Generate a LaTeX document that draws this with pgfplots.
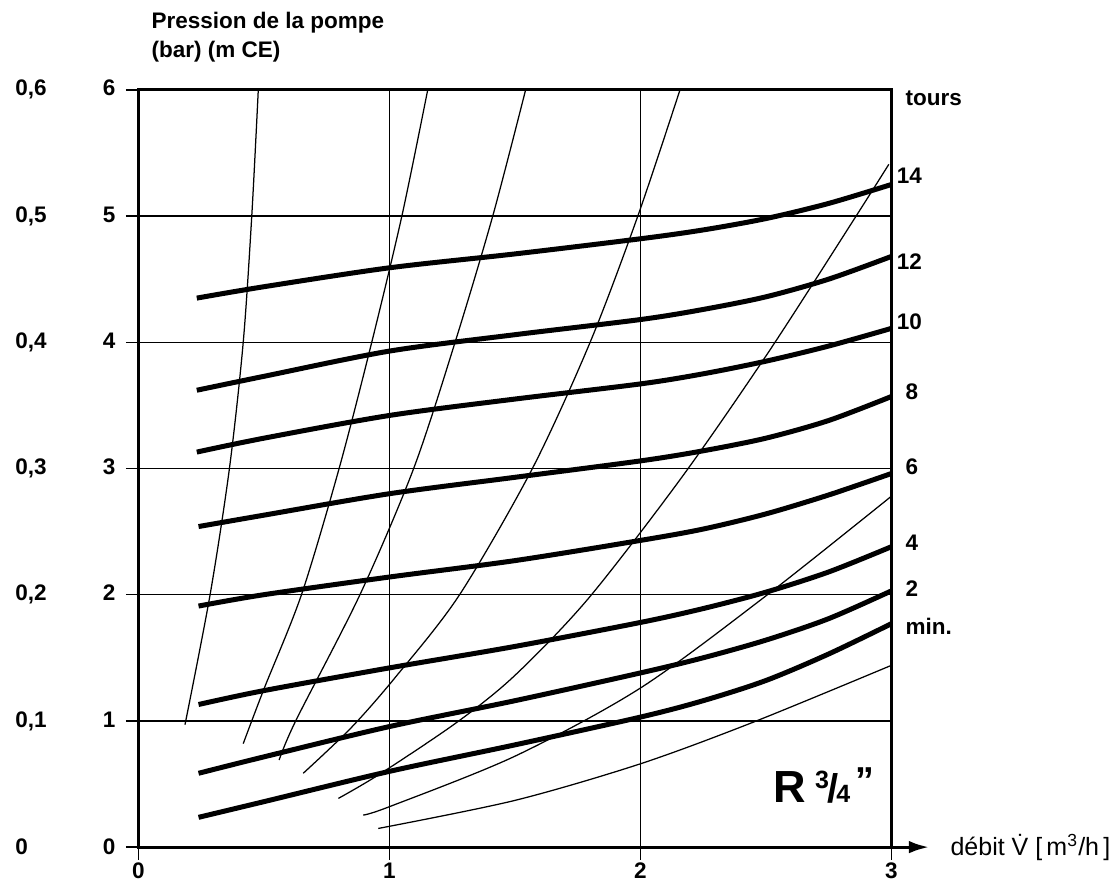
\documentclass[border=0pt]{standalone}
\usepackage{fontspec}
\setmainfont{Liberation Sans}
\usepackage{pgfplots}
\pgfplotsset{compat=1.18}
\usetikzlibrary{arrows.meta}

% two columns of y labels: bar (left) and m CE (right)
\newcommand\yl[2]{\makebox[40pt][s]{#1\hfill#2}}

\begin{document}
\begin{tikzpicture}
\begin{axis}[
    scale only axis, width=301.2pt, height=302.9pt,
    xmin=0, xmax=3, ymin=0, ymax=6,
    xtick={0,1,2,3}, ytick={0,1,2,3,4,5,6},
    yticklabels={{\yl{0}{0}},{\yl{0,1}{1}},{\yl{0,2}{2}},{\yl{0,3}{3}},{\yl{0,4}{4}},{\yl{0,5}{5}},{\yl{0,6}{6}}},
    xtick pos=bottom, ytick pos=left,
    tick align=outside, major tick length=5pt,
    grid=major, grid style={black, line width=0.6pt},
    major tick style={black, line width=0.6pt},
    axis line style={line width=1.2pt},
    ticklabel style={font=\fontsize{9}{10}\selectfont\bfseries},
    /pgf/number format/assume math mode=true,
    yticklabel style={anchor=east, inner sep=0pt, xshift=-4pt},
    xticklabel style={inner sep=0pt, yshift=-1pt},
    clip=false,
]
% pump curves (tours)
\addplot[black, line width=2pt, smooth] coordinates {(0.233,4.35)(0.5,4.44)(1,4.59)(1.5,4.70)(2,4.82)(2.25,4.89)(2.5,4.98)(2.75,5.10)(3,5.25)};
\addplot[black, line width=2pt, smooth] coordinates {(0.233,3.62)(0.5,3.73)(1,3.93)(1.5,4.06)(2,4.18)(2.25,4.26)(2.5,4.36)(2.75,4.50)(3,4.68)};
\addplot[black, line width=2pt, smooth] coordinates {(0.233,3.13)(0.5,3.24)(1,3.42)(1.5,3.55)(2,3.67)(2.25,3.75)(2.5,3.85)(2.75,3.97)(3,4.11)};
\addplot[black, line width=2pt, smooth] coordinates {(0.24,2.54)(0.5,2.63)(1,2.80)(1.5,2.93)(2,3.06)(2.25,3.14)(2.5,3.24)(2.75,3.38)(3,3.57)};
\addplot[black, line width=2pt, smooth] coordinates {(0.24,1.91)(0.5,2.00)(1,2.14)(1.5,2.27)(2,2.43)(2.25,2.52)(2.5,2.64)(2.75,2.79)(3,2.96)};
\addplot[black, line width=2pt, smooth] coordinates {(0.24,1.13)(0.5,1.24)(1,1.42)(1.5,1.59)(2,1.78)(2.25,1.89)(2.5,2.02)(2.75,2.18)(3,2.38)};
\addplot[black, line width=2pt, smooth] coordinates {(0.24,0.585)(0.5,0.715)(1,0.955)(1.5,1.16)(2,1.38)(2.25,1.50)(2.5,1.64)(2.75,1.81)(3,2.03)};
\addplot[black, line width=2pt, smooth] coordinates {(0.24,0.236)(0.5,0.36)(1,0.60)(1.5,0.81)(2,1.03)(2.25,1.16)(2.5,1.32)(2.75,1.53)(3,1.77)};
% system curves
\addplot[black, line width=0.5pt, smooth] coordinates {(0.186,0.97)(0.286,2)(0.363,3)(0.418,4)(0.452,5)(0.478,6)};
\addplot[black, line width=0.5pt, smooth] coordinates {(0.418,0.82)(0.50,1.25)(0.65,2)(0.80,3)(0.93,4)(1.05,5)(1.153,6)};
\addplot[black, line width=0.5pt, smooth] coordinates {(0.561,0.69)(0.627,1)(0.883,2)(1.097,3)(1.262,4)(1.412,5)(1.543,6)};
\addplot[black, line width=0.5pt, smooth] coordinates {(0.657,0.585)(0.85,0.95)(1.03,1.36)(1.28,2)(1.57,3)(1.80,4)(1.99,5)(2.158,6)};
\addplot[black, line width=0.5pt, smooth] coordinates {(0.797,0.386)(0.963,0.58)(1.27,0.99)(1.5,1.36)(1.793,1.97)(2.165,2.93)(2.51,3.92)(2.85,4.97)(2.99,5.41)};
\addplot[black, line width=0.5pt, smooth] coordinates {(0.896,0.254)(1.0,0.32)(1.5,0.72)(2.0,1.26)(2.5,1.99)(3.0,2.78)};
\addplot[black, line width=0.5pt, smooth] coordinates {(0.956,0.148)(1.5,0.37)(2.0,0.66)(2.45,0.99)(3.0,1.44)};

% x axis arrow
\draw[line width=1.2pt, -{Latex[length=8pt,width=5pt]}] (axis cs:3,0) -- (axis cs:3.15,0);

\begin{scope}[every node/.style={inner sep=0pt, font=\fontsize{9}{10}\selectfont\bfseries}]
\node[anchor=base west] at (axis cs:0.051,6.49) {Pression de la pompe};
\node[anchor=base west] at (axis cs:0.051,6.26) {(bar) (m CE)};
\node[anchor=west] at (axis cs:3.055,5.935) {tours};
\node[anchor=west] at (axis cs:3.02,5.32) {14};
\node[anchor=west] at (axis cs:3.02,4.64) {12};
\node[anchor=west] at (axis cs:3.02,4.16) {10};
\node[anchor=west] at (axis cs:3.055,3.61) {8};
\node[anchor=west] at (axis cs:3.055,3.01) {6};
\node[anchor=west] at (axis cs:3.055,2.41) {4};
\node[anchor=west] at (axis cs:3.055,2.05) {2};
\node[anchor=west] at (axis cs:3.055,1.75) {min.};
\end{scope}
\node[anchor=west, inner sep=0pt, font=\fontsize{10}{11}\selectfont] at (axis cs:3.234,0) {débit\ \.V\ [\,m\textsuperscript{3}/h\,]};
\node[anchor=base west, inner sep=0pt, font=\fontsize{18}{18}\selectfont\bfseries] at (axis cs:2.53,0.357)
  {R\kern3.5pt{\fontsize{10}{10}\selectfont\raisebox{5.5pt}{3}\kern-0.5pt{\fontsize{16}{16}\selectfont/}\kern-1pt4\kern2pt\raisebox{3.5pt}{\fontsize{15}{15}\selectfont''}}};

\coordinate (bbsw) at (axis cs:-0.551,-0.341);
\coordinate (bbne) at (axis cs:3.907,6.712);
\end{axis}
\path (bbsw) rectangle (bbne);
\end{tikzpicture}
\end{document}
